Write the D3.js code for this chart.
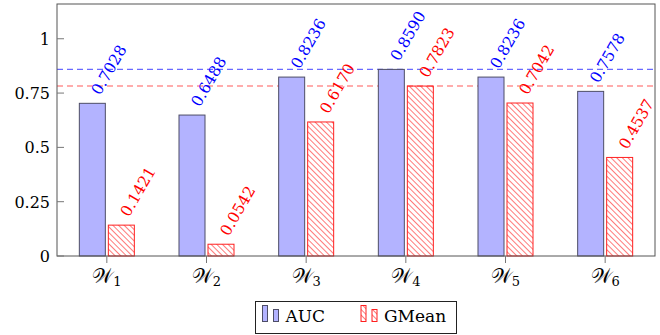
<!DOCTYPE html>
<html>
<head>
<meta charset="utf-8">
<script src="https://cdn.jsdelivr.net/npm/d3@7"></script>
<style>
  body { margin: 0; background: #fff; }
</style>
</head>
<body>
<svg id="chart"></svg>
<script>
// Data
const categories = ["1", "2", "3", "4", "5", "6"];
const aucValues = [0.7028, 0.6488, 0.8236, 0.8590, 0.8236, 0.7578];
const gmeanValues = [0.1421, 0.0542, 0.6170, 0.7823, 0.7042, 0.4537];
const yTicks = [0, 0.25, 0.5, 0.75, 1];
const yTickLabels = ["0", "0.25", "0.5", "0.75", "1"];
const seriesNames = ["AUC", "GMean"];

// Dimensions
const width = 660;
const height = 335;
const plot = { left: 57, right: 655, top: 4, bottom: 256 };
const barWidth = 26;

const svg = d3.select("#chart")
    .attr("width", width)
    .attr("height", height)
    .attr("font-family", "DejaVu Serif");

// Pattern for GMean bars (north west lines)
const defs = svg.append("defs");
const pat = defs.append("pattern")
    .attr("id", "nwlines")
    .attr("patternUnits", "userSpaceOnUse")
    .attr("width", 4)
    .attr("height", 4)
    .attr("patternTransform", "rotate(-45)");
pat.append("line")
    .attr("x1", 0).attr("y1", 0)
    .attr("x2", 0).attr("y2", 4)
    .attr("stroke", "#ff2020")
    .attr("stroke-width", 1.2);

// Scales
const x = d3.scaleBand()
    .domain(categories)
    .range([plot.left, plot.right])
    .padding(0);

const y = d3.scaleLinear()
    .domain([0, 1.16])
    .range([plot.bottom, plot.top]);

const cx = d => x(d) + x.bandwidth() / 2;

// Reference lines at max values
const refLines = [
    { v: d3.max(aucValues), color: "#6a6aff" },
    { v: d3.max(gmeanValues), color: "#ff5a5a" }
];
svg.selectAll(".ref")
    .data(refLines)
    .enter()
    .append("line")
    .attr("x1", plot.left)
    .attr("x2", plot.right)
    .attr("y1", d => y(d.v))
    .attr("y2", d => y(d.v))
    .attr("stroke", d => d.color)
    .attr("stroke-width", 1.1)
    .attr("stroke-dasharray", "6,4");

// AUC bars
svg.selectAll(".auc")
    .data(aucValues)
    .enter()
    .append("rect")
    .attr("x", (d, i) => cx(categories[i]) - 27.5)
    .attr("y", d => y(d))
    .attr("width", barWidth)
    .attr("height", d => y(0) - y(d))
    .attr("fill", "#b3b3ff")
    .attr("stroke", "#4d4d66")
    .attr("stroke-width", 1);

// GMean bars
svg.selectAll(".gmean")
    .data(gmeanValues)
    .enter()
    .append("rect")
    .attr("x", (d, i) => cx(categories[i]) + 1.5)
    .attr("y", d => y(d))
    .attr("width", barWidth)
    .attr("height", d => y(0) - y(d))
    .attr("fill", "url(#nwlines)")
    .attr("stroke", "#ff2020")
    .attr("stroke-width", 1);

// Value labels
const addLabels = (vals, dx, color) => {
    svg.append("g").selectAll("text")
        .data(vals)
        .enter()
        .append("text")
        .attr("transform", (d, i) => `translate(${cx(categories[i]) + dx + 3},${y(d) - 10}) rotate(-60)`)
        .attr("dy", "0.35em")
        .attr("font-size", "15.5px")
        .attr("fill", color)
        .text(d => d3.format(".4f")(d));
};
addLabels(aucValues, -14.5, "#0000ff");
addLabels(gmeanValues, 14.5, "#ff0000");

// Axis frame
svg.append("rect")
    .attr("x", plot.left)
    .attr("y", plot.top)
    .attr("width", plot.right - plot.left)
    .attr("height", plot.bottom - plot.top)
    .attr("fill", "none")
    .attr("stroke", "#555")
    .attr("stroke-width", 1);

// Y ticks
svg.selectAll(".ytick")
    .data(yTicks)
    .enter()
    .append("line")
    .attr("x1", plot.left)
    .attr("x2", plot.left + 7)
    .attr("y1", d => y(d))
    .attr("y2", d => y(d))
    .attr("stroke", "#777")
    .attr("stroke-width", 1);

svg.selectAll(".ylabel")
    .data(yTicks)
    .enter()
    .append("text")
    .attr("x", 50)
    .attr("y", d => y(d) + 6)
    .attr("text-anchor", "end")
    .attr("font-size", "16px")
    .attr("fill", "#000")
    .text((d, i) => yTickLabels[i]);

// X ticks
svg.selectAll(".xtick")
    .data(categories)
    .enter()
    .append("line")
    .attr("x1", d => cx(d))
    .attr("x2", d => cx(d))
    .attr("y1", plot.bottom)
    .attr("y2", plot.bottom + 7)
    .attr("stroke", "#777")
    .attr("stroke-width", 1);

const xl = svg.selectAll(".xlabel")
    .data(categories)
    .enter()
    .append("text")
    .attr("x", d => cx(d))
    .attr("y", 283)
    .attr("text-anchor", "middle")
    .attr("fill", "#000");
xl.append("tspan")
    .attr("font-size", "20px")
    .text("\u{1D4B2}");
xl.append("tspan")
    .attr("font-size", "13px")
    .attr("dy", 3)
    .text(d => d);

// Legend
const legend = svg.append("g");
legend.append("rect")
    .attr("x", 255.5)
    .attr("y", 301.5)
    .attr("width", 201)
    .attr("height", 32)
    .attr("fill", "#fff")
    .attr("stroke", "#222")
    .attr("stroke-width", 1);

const legendItems = [
    { name: seriesNames[0], x: 262, fill: "#b3b3ff", stroke: "#4d4d66" },
    { name: seriesNames[1], x: 360.5, fill: "url(#nwlines)", stroke: "#ff2020" }
];
legendItems.forEach(it => {
    legend.append("rect")
        .attr("x", it.x + 0.5).attr("y", 305.5)
        .attr("width", 5).attr("height", 16)
        .attr("fill", it.fill).attr("stroke", it.stroke).attr("stroke-width", 1);
    legend.append("rect")
        .attr("x", it.x + 11.5).attr("y", 309.5)
        .attr("width", 5).attr("height", 12)
        .attr("fill", it.fill).attr("stroke", it.stroke).attr("stroke-width", 1);
    legend.append("text")
        .attr("x", it.x + 23.5)
        .attr("y", 322)
        .attr("font-size", "17px")
        .attr("fill", "#000")
        .text(it.name);
});
</script>
</body>
</html>
